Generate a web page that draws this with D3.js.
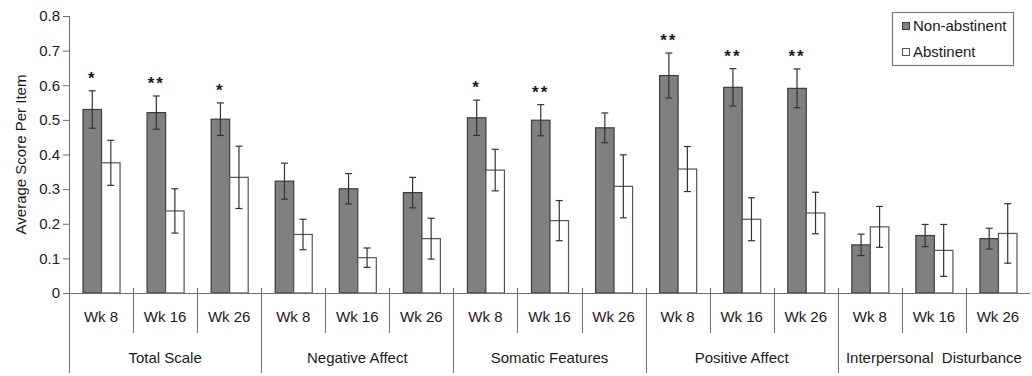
<!DOCTYPE html>
<html>
<head>
<meta charset="utf-8">
<script src="https://cdn.jsdelivr.net/npm/d3@7"></script>
<style>
    body { margin: 0; background: #fff; }
    #chart { width: 1032px; height: 376px; }
    text { font-family: "Liberation Sans", Arial, sans-serif; fill: #1a1a1a; }
</style>
</head>
<body>
<div id="chart"></div>
<script>

/*
DATA: average score per item
*/
const categories = ["Total Scale", "Negative Affect", "Somatic Features", "Positive Affect", "Interpersonal  Disturbance"];
const weeks = ["Wk 8", "Wk 16", "Wk 26"];
const seriesNames = ["Non-abstinent", "Abstinent"];

// one value per category/week, in order
const nonAbstinent = [0.530, 0.521, 0.502, 0.323, 0.301, 0.290, 0.506, 0.499, 0.477, 0.628, 0.594, 0.591, 0.139, 0.166, 0.157];
const nonAbstinentErr = [0.054, 0.048, 0.047, 0.052, 0.044, 0.044, 0.051, 0.045, 0.043, 0.065, 0.054, 0.056, 0.031, 0.032, 0.030];
const abstinent = [0.376, 0.237, 0.334, 0.169, 0.102, 0.157, 0.355, 0.209, 0.308, 0.358, 0.213, 0.231, 0.191, 0.123, 0.172];
const abstinentErr = [0.065, 0.064, 0.090, 0.044, 0.028, 0.059, 0.060, 0.058, 0.091, 0.065, 0.062, 0.060, 0.059, 0.075, 0.086];
const stars = ["*", "**", "*", "", "", "", "*", "**", "", "**", "**", "**", "", "", ""];

const yTicks = [0, 0.1, 0.2, 0.3, 0.4, 0.5, 0.6, 0.7, 0.8];

/*
BUILD ROWS
*/
let rows = [];
categories.forEach((c, i) => {
    weeks.forEach((w, j) => {
        let k = i * weeks.length + j;
        rows.push({
            key: c + "|" + w,
            category: c,
            week: w,
            star: stars[k],
            values: [
                { series: seriesNames[0], value: nonAbstinent[k], err: nonAbstinentErr[k] },
                { series: seriesNames[1], value: abstinent[k], err: abstinentErr[k] }
            ]
        });
    });
});

/*
SVG + SCALES
*/
const width = 1032;
const height = 376;
const plotLeft = 69, plotRight = 1030, plotTop = 16, plotBottom = 293;

const svg = d3.select("#chart")
    .append("svg")
    .attr("width", width)
    .attr("height", height);

const xScale = d3.scaleBand()
    .domain(rows.map(d => d.key))
    .range([plotLeft, plotRight])
    .padding(0);

const xInner = d3.scaleBand()
    .domain(seriesNames)
    .range([0, xScale.bandwidth()])
    .paddingInner(0)
    .paddingOuter(0.73);

const yScale = d3.scaleLinear()
    .domain([0, 0.8])
    .range([plotBottom, plotTop]);

const fillScale = d3.scaleOrdinal()
    .domain(seriesNames)
    .range(["#808080", "#ffffff"]);

const strokeScale = d3.scaleOrdinal()
    .domain(seriesNames)
    .range(["#3c3c3c", "#555555"]);

/* Y AXIS */
const yAxis = svg.append("g")
    .attr("transform", `translate(${plotLeft},0)`)
    .call(d3.axisLeft(yScale)
        .tickValues(yTicks)
        .tickFormat(d => d === 0 ? "0" : d3.format(".1f")(d))
        .tickSize(6)
        .tickPadding(3));

yAxis.select(".domain").remove();
yAxis.selectAll(".tick line").attr("stroke", "#6e6e6e");
yAxis.selectAll(".tick text")
    .style("font-family", "'Liberation Sans', Arial, sans-serif")
    .style("font-size", "15px")
    .attr("fill", "#1a1a1a");

svg.append("line")
    .attr("x1", plotLeft + 0.5).attr("x2", plotLeft + 0.5)
    .attr("y1", plotTop).attr("y2", 373)
    .attr("stroke", "#6e6e6e");

svg.append("text")
    .attr("transform", `translate(21,${(plotTop + plotBottom) / 2}) rotate(-90)`)
    .attr("text-anchor", "middle")
    .attr("dy", "0.35em")
    .style("font-size", "15px")
    .text("Average Score Per Item");

/* BARS */
let group = svg.append("g")
    .selectAll("g")
    .data(rows)
    .enter()
    .append("g")
    .attr("transform", d => `translate(${xScale(d.key)},0)`);

group.selectAll("rect")
    .data(d => d.values)
    .enter()
    .append("rect")
        .attr("x", d => xInner(d.series) + 0.5)
        .attr("y", d => yScale(d.value))
        .attr("width", xInner.bandwidth())
        .attr("height", d => plotBottom - yScale(d.value))
        .attr("fill", d => fillScale(d.series))
        .attr("stroke", d => strokeScale(d.series))
        .attr("stroke-width", 1.2);

/* ERROR BARS */
let err = group.selectAll("g.err")
    .data(d => d.values)
    .enter()
    .append("g")
    .attr("class", "err")
    .attr("transform", d => `translate(${xInner(d.series) + xInner.bandwidth() / 2 + 0.5},0)`);

err.append("line")
    .attr("y1", d => yScale(d.value + d.err))
    .attr("y2", d => yScale(d.value - d.err))
    .attr("stroke", "#333")
    .attr("stroke-width", 1.2);

err.selectAll("line.cap")
    .data(d => [d.value + d.err, d.value - d.err])
    .enter()
    .append("line")
    .attr("class", "cap")
    .attr("x1", -3.5).attr("x2", 3.5)
    .attr("y1", d => yScale(d)).attr("y2", d => yScale(d))
    .attr("stroke", "#333")
    .attr("stroke-width", 1.2);

/* SIGNIFICANCE STARS */
group.filter(d => d.star !== "")
    .append("text")
    .attr("x", d => xInner(seriesNames[0]) + xInner.bandwidth() / 2 + 0.5)
    .attr("y", d => yScale(d.values[0].value + d.values[0].err) - 7)
    .attr("text-anchor", "middle")
    .style("font-size", "17px")
    .style("font-weight", "bold")
    .style("letter-spacing", "2px")
    .text(d => d.star);

/* X AXIS: line, separators, labels */
svg.append("line")
    .attr("x1", plotLeft).attr("x2", plotRight)
    .attr("y1", plotBottom + 0.5).attr("y2", plotBottom + 0.5)
    .attr("stroke", "#6e6e6e");

svg.append("g")
    .selectAll("line")
    .data(rows.slice(1))
    .enter()
    .append("line")
        .attr("x1", d => Math.round(xScale(d.key)) + 0.5)
        .attr("x2", d => Math.round(xScale(d.key)) + 0.5)
        .attr("y1", 288)
        .attr("y2", d => d.week === weeks[0] ? 373 : 333)
        .attr("stroke", "#6e6e6e");

svg.append("g")
    .selectAll("text")
    .data(rows)
    .enter()
    .append("text")
        .attr("x", d => xScale(d.key) + xScale.bandwidth() / 2)
        .attr("y", 317)
        .attr("dy", "0.35em")
        .attr("text-anchor", "middle")
        .style("font-size", "15px")
        .text(d => d.week);

svg.append("g")
    .selectAll("text")
    .data(categories)
    .enter()
    .append("text")
        .attr("x", c => xScale(c + "|" + weeks[1]) + xScale.bandwidth() / 2)
        .attr("y", 358)
        .attr("dy", "0.35em")
        .attr("text-anchor", "middle")
        .style("font-size", "15px")
        .style("white-space", "pre")
        .text(c => c);

/* LEGEND */
let legend = svg.append("g");

legend.append("rect")
    .attr("x", 892.5).attr("y", 12.5)
    .attr("width", 121).attr("height", 53)
    .attr("fill", "#fff")
    .attr("stroke", "#7a7a7a")
    .attr("stroke-width", 1.2);

let item = legend.selectAll("g")
    .data(seriesNames)
    .enter()
    .append("g")
    .attr("transform", (d, i) => `translate(902,${26 + i * 26})`);

item.append("rect")
    .attr("x", 0.5).attr("y", -3.5)
    .attr("width", 7).attr("height", 7)
    .attr("fill", d => fillScale(d))
    .attr("stroke", d => strokeScale(d));

item.append("text")
    .attr("x", 11)
    .attr("dy", "0.35em")
    .style("font-size", "15px")
    .text(d => d);

</script>
</body>
</html>
